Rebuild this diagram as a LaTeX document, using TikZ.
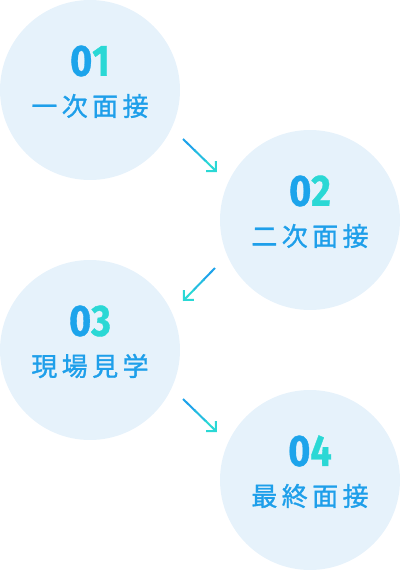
\documentclass[tikz,border=0pt]{standalone}
\usepackage{fontspec}
\usetikzlibrary{arrows.meta,calc}
\newfontfamily\jpfont[LetterSpace=17, FakeBold=1.2]{Noto Sans CJK JP}
\newfontfamily\numfont[FakeStretch=0.86, FakeBold=0.8]{Fira Sans}
\definecolor{circlefill}{HTML}{E6F2FB}
\definecolor{textblue}{HTML}{1E9FEA}
\definecolor{numA}{HTML}{1CA4EB}
\definecolor{numB}{HTML}{2AD8D5}
\definecolor{arrA}{HTML}{1EA3EA}
\definecolor{arrB}{HTML}{24BDE0}
\definecolor{arrC}{HTML}{2AD8D5}
\newcommand\gradarrow[2]{%
  \draw[arr, arrA] (#1) -- ($(#1)!0.36!(#2)$);
  \draw[arr, arrB] ($(#1)!0.34!(#2)$) -- ($(#1)!0.68!(#2)$);
  \draw[arr, arrC, ->] ($(#1)!0.66!(#2)$) -- (#2);}
\newcommand\twotone[2]{{\color{numA}#1}{\color{numB}#2}}
\begin{document}
\begin{tikzpicture}[x=1pt, y=-1pt, >={Straight Barb[length=7pt,width=14pt]},
    stepcircle/.style={circle, fill=circlefill, minimum size=180pt, inner sep=0pt},
    num/.style={font=\numfont\bfseries\fontsize{44}{44}\selectfont, inner sep=0pt},
    jptext/.style={font=\jpfont\fontsize{26}{26}\selectfont, text=textblue, inner sep=0pt},
    arr/.style={line width=2pt}]
    \useasboundingbox (0,0) rectangle (400,570);

    % steps
    \node[stepcircle] (s1) at (90,90) {};
    \node[stepcircle] (s2) at (310,220) {};
    \node[stepcircle] (s3) at (90,350) {};
    \node[stepcircle] (s4) at (310,480) {};

    \node[num] (n1) at ($(s1)+(0,-29)$) {\twotone{0}{1}};
    \node[num] (n2) at ($(s2)+(0,-29)$) {\twotone{0}{2}};
    \node[num] (n3) at ($(s3)+(0,-29)$) {\twotone{0}{3}};
    \node[num] (n4) at ($(s4)+(0,-29)$) {\twotone{0}{4}};

    \node[jptext] (t1) at ($(s1)+(0,16)$) {一次面接};
    \node[jptext] (t2) at ($(s2)+(0,16)$) {二次面接};
    \node[jptext] (t3) at ($(s3)+(0,16)$) {現場見学};
    \node[jptext] (t4) at ($(s4)+(0,16)$) {最終面接};

    % arrows
    \coordinate (a1s) at (183,139);
    \coordinate (a1e) at (217,172);
    \coordinate (a2s) at (215,268);
    \coordinate (a2e) at (183,301);
    \coordinate (a3s) at (183,399);
    \coordinate (a3e) at (217,432);
    \gradarrow{a1s}{a1e}
    \gradarrow{a2s}{a2e}
    \gradarrow{a3s}{a3e}
\end{tikzpicture}
\end{document}
